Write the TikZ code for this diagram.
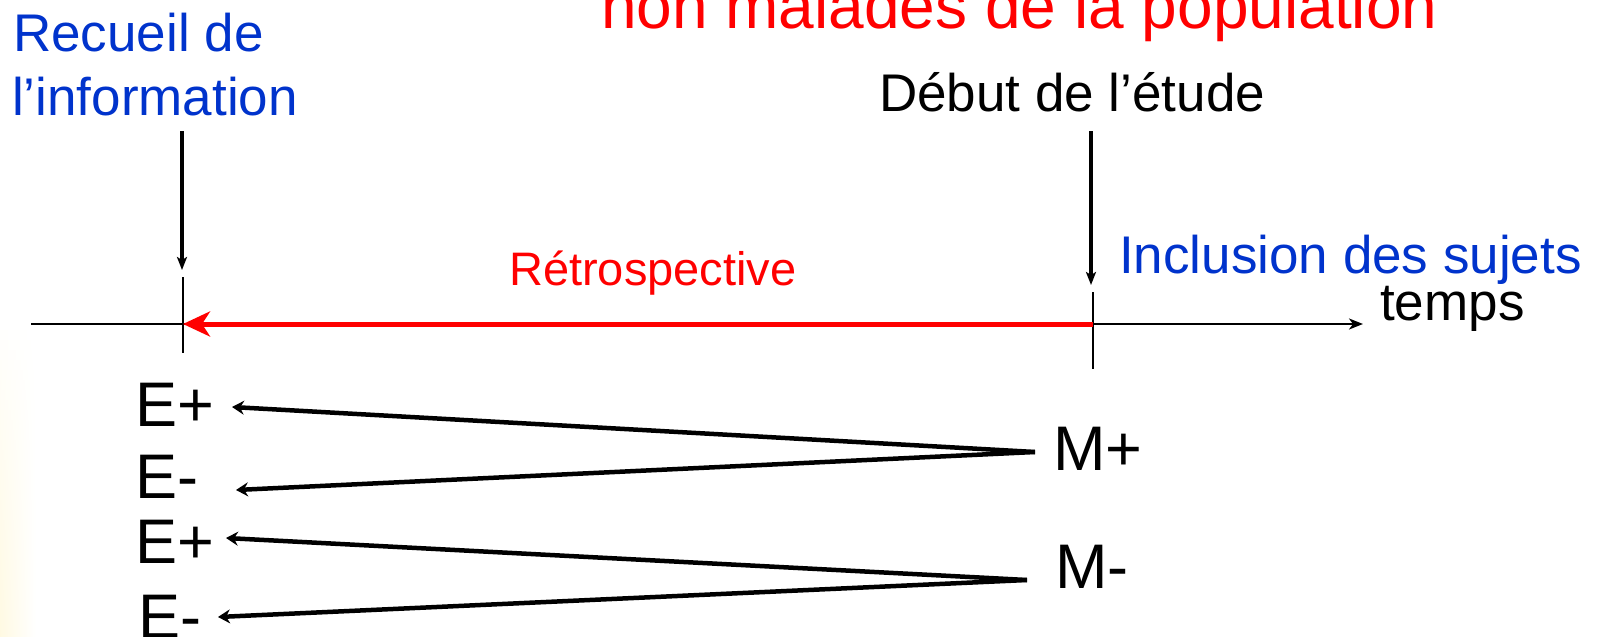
\documentclass[tikz,border=0pt]{standalone}
\usepackage{fontspec}
\setmainfont{Liberation Sans}
\usetikzlibrary{arrows.meta}

\definecolor{hotred}{RGB}{255,0,0}
\definecolor{noteblue}{RGB}{0,51,204}
\definecolor{paleyellow}{RGB}{255,247,214}

\begin{document}
\begin{tikzpicture}[x=1pt, y=-1pt,
  lbl/.style={inner sep=0pt, anchor=base west},
  txt/.style={lbl, font=\fontsize{53}{64}\selectfont},
  grp/.style={lbl, font=\fontsize{63}{70}\selectfont},
  ttl/.style={lbl, font=\fontsize{64}{70}\selectfont, text=hotred},
  pointer/.style={line width=3.2pt, -{Stealth[length=13pt, width=10pt, inset=3pt]}},
  link/.style={line width=4.5pt, -{Stealth[length=12pt, width=14pt, inset=4pt]}},
  tickmark/.style={line width=2.2pt},
]
% canvas
\useasboundingbox (0,0) rectangle (1607,637);
\fill[white] (0,0) rectangle (1607,637);
% warm glow along the lower left edge, growing downwards
\foreach \i in {0,...,31}{
  \pgfmathsetmacro{\amt}{70*(\i/31)^0.8}
  \shade[left color=paleyellow!\amt!white, right color=white]
    (0,{320+\i*10}) rectangle (36,{331+\i*10});
}

% heading (partly above the frame)
\node[ttl] (title) at (601,28) {non malades de la population};

% labels
\node[txt, text=noteblue] (rec1) at (13,51) {Recueil de};
\node[txt, text=noteblue] (rec2) at (12,115) {l’information};
\node[txt] (debut) at (879,111) {Début de l’étude};
\node[txt, text=noteblue] (incl) at (1119,273) {Inclusion des sujets};
\node[txt] (temps) at (1380,320) {temps};
\node[lbl, font=\fontsize{47}{54}\selectfont, text=hotred] (retro) at (509,285) {Rétrospective};

% time axis and its marks
\coordinate (axL) at (31,324);
\coordinate (axR) at (1363,324);
\coordinate (t1) at (183,324);
\coordinate (t2) at (1093,324);
\draw[line width=2pt, -{Stealth[length=14pt, width=11pt, inset=4pt]}] (axL) -- (axR);
\draw[tickmark] (183,277) -- (183,353);
\draw[tickmark] (1093,292) -- (1093,369);
\draw[hotred, line width=5pt, -{Stealth[length=27pt, width=25pt, inset=8pt]}] (t2) -- (t1);

% pointers to the marks
\coordinate (p1a) at (182,131);
\coordinate (p1b) at (182,270);
\coordinate (p2a) at (1091,131);
\coordinate (p2b) at (1091,285);
\draw[pointer] (p1a) -- (p1b);
\draw[pointer] (p2a) -- (p2b);

% exposure groups
\node[grp] (e1) at (135,426) {E+};
\node[grp] (e2) at (135,498) {E-};
\node[grp] (e3) at (135,563) {E+};
\node[grp] (e4) at (138,638) {E-};
\node[grp] (mp) at (1053,470) {M+};
\node[grp] (mm) at (1055,588) {M-};

\coordinate (mpx) at (1035,452);
\coordinate (mmx) at (1027,580);
\coordinate (e1x) at (232,407);
\coordinate (e2x) at (236,490);
\coordinate (e3x) at (226,538);
\coordinate (e4x) at (218,617);
\draw[link] (mpx) -- (e1x);
\draw[link] (mpx) -- (e2x);
\draw[link] (mmx) -- (e3x);
\draw[link] (mmx) -- (e4x);
\end{tikzpicture}
\end{document}
